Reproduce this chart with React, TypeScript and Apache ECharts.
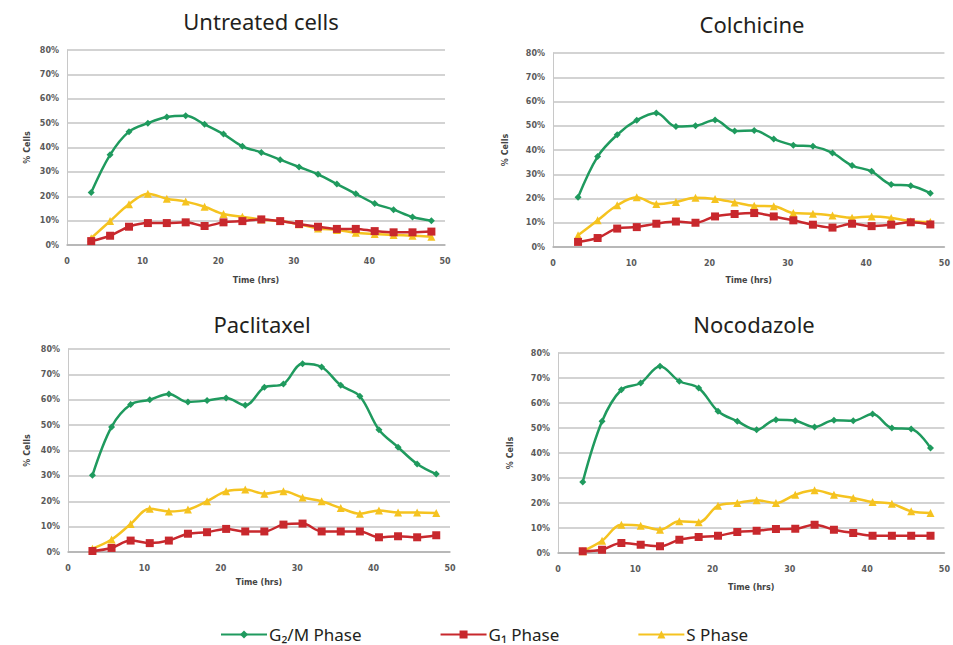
import React, { useEffect, useRef } from "react";
import * as echarts from "echarts";

const times = [3.2, 5.7, 8.2, 10.7, 13.2, 15.7, 18.2, 20.7, 23.2, 25.7, 28.2, 30.7, 33.2, 35.7, 38.2, 40.7, 43.2, 45.7, 48.2];

const panelTitles = ["Untreated cells", "Colchicine", "Paclitaxel", "Nocodazole"];
const seriesNames = ["G₂/M Phase", "G₁ Phase", "S Phase"];
const xTicks = [0, 10, 20, 30, 40, 50];
const yTicks = [0, 10, 20, 30, 40, 50, 60, 70, 80];

// Untreated cells
const untreatedG2M = [21.5, 37, 46.5, 50, 52.5, 53, 49.5, 45.5, 40.5, 38, 35, 32, 29, 25, 21, 17, 14.5, 11.5, 10];
const untreatedG1 = [1.6, 3.8, 7.5, 9, 9, 9.3, 7.8, 9.3, 9.8, 10.5, 9.8, 8.6, 7.5, 6.6, 6.6, 5.7, 5.2, 5.2, 5.5];
const untreatedS = [2.8, 9.8, 16.7, 21, 19, 17.8, 15.7, 12.7, 11.6, 10.5, 9.8, 8.5, 6.8, 6.2, 5, 4.5, 4.1, 3.8, 3.4];

// Colchicine
const colchicineG2M = [20.5, 37.3, 46.3, 52.3, 55.3, 49.7, 50, 52.4, 47.8, 48, 44.5, 42, 41.5, 38.8, 33.6, 31.2, 25.8, 25.3, 22.2];
const colchicineG1 = [2.1, 3.7, 7.6, 8.2, 9.6, 10.5, 10, 12.6, 13.6, 14, 12.6, 11, 9.2, 8, 9.6, 8.6, 9.2, 10.2, 9.3];
const colchicineS = [4.8, 11, 17.2, 20.5, 17.7, 18.6, 20.3, 19.8, 18.4, 17, 16.8, 14, 13.7, 13, 12.1, 12.6, 12, 10.6, 10.3];

// Paclitaxel
const paclitaxelG2M = [30.2, 49.3, 58.1, 60, 62.3, 59.1, 59.7, 60.7, 57.8, 64.9, 66.2, 74.2, 72.9, 65.7, 61.4, 48.2, 41.3, 34.7, 30.7];
const paclitaxelG1 = [0.4, 1.6, 4.5, 3.5, 4.5, 7.2, 7.8, 9.1, 8.1, 8.1, 10.8, 11.2, 8.1, 8.1, 8.1, 5.8, 6.2, 5.8, 6.6];
const paclitaxelS = [1.3, 4.9, 11, 17, 16, 16.7, 20, 23.9, 24.6, 23, 23.9, 21.5, 20, 17.3, 15.1, 16.4, 15.6, 15.6, 15.4];

// Nocodazole
const nocodazoleG2M = [28.4, 52.7, 65.3, 68, 74.7, 68.7, 66, 56.7, 52.7, 49.3, 53.3, 52.9, 50.4, 53.1, 52.9, 55.6, 50, 49.6, 42];
const nocodazoleG1 = [0.7, 1.3, 4, 3.3, 2.7, 5.3, 6.4, 6.9, 8.4, 8.9, 9.6, 9.7, 11.3, 9.3, 8, 6.9, 6.9, 6.9, 6.9];
const nocodazoleS = [0.7, 4.9, 11.3, 10.9, 9.3, 12.7, 12.3, 18.9, 20, 21.1, 20, 23.3, 25.1, 23.3, 22, 20.4, 19.7, 16.7, 16];

const panelData = [
  [untreatedG2M, untreatedG1, untreatedS],
  [colchicineG2M, colchicineG1, colchicineS],
  [paclitaxelG2M, paclitaxelG1, paclitaxelS],
  [nocodazoleG2M, nocodazoleG1, nocodazoleS],
];

const colors = ["#1f9a5e", "#c8282d", "#f5c320"];
const symbols = ["diamond", "rect", "triangle"];
const symbolSizes = [7, 8, 8];

const grids = [
  { left: 67, right: 508, top: 50, bottom: 400 },
  { left: 553, right: 8, top: 53, bottom: 398 },
  { left: 68, right: 503, top: 349, bottom: 93 },
  { left: 558, right: 8, top: 353, bottom: 92 },
];
const titlePos = [
  { x: 261, y: 10 },
  { x: 752, y: 13 },
  { x: 262, y: 313 },
  { x: 754, y: 313 },
];
const xNameGaps = [31, 29, 26, 30];
const yNameGaps = [36, 44, 37, 44];

const tickFont = { fontFamily: "DejaVu Sans", fontSize: 8, fontWeight: "bold" as const, color: "#5a5a5a" };

export default function App() {
  const ref = useRef<HTMLDivElement>(null);
  useEffect(() => {
    if (!ref.current) return;
    const chart = echarts.init(ref.current, null, { renderer: "svg" });
    const series: any[] = [];
    panelData.forEach((panel, p) => {
      panel.forEach((vals, s) => {
        series.push({
          name: seriesNames[s],
          type: "line",
          xAxisIndex: p,
          yAxisIndex: p,
          data: times.map((t, i) => [t, vals[i]]),
          smooth: 0.35,
          symbol: symbols[s],
          symbolSize: symbolSizes[s],
          showSymbol: true,
          lineStyle: { color: colors[s], width: 2.5 },
          itemStyle: { color: colors[s] },
          z: 3 - s,
        });
      });
    });
    chart.setOption({
      animation: false,
      backgroundColor: "#ffffff",
      color: colors,
      grid: grids,
      graphic: panelTitles.map((t, i) => ({
        type: "text",
        x: titlePos[i].x,
        y: titlePos[i].y,
        style: {
          text: t,
          fill: "#231f20",
          font: "22px 'Noto Sans'",
          textAlign: "center",
          textVerticalAlign: "top",
        },
      })),
      xAxis: grids.map((_, i) => ({
        type: "value",
        gridIndex: i,
        min: xTicks[0],
        max: xTicks[xTicks.length - 1],
        interval: 10,
        name: "Time (hrs)",
        nameLocation: "middle",
        nameGap: xNameGaps[i],
        nameTextStyle: { ...tickFont, color: "#444" },
        axisLine: { show: true, lineStyle: { color: "#b0b0b0", width: 1.5 } },
        axisTick: { show: false },
        splitLine: { show: false },
        axisLabel: { ...tickFont, margin: 12 },
      })),
      yAxis: grids.map((_, i) => ({
        type: "value",
        gridIndex: i,
        min: yTicks[0],
        max: yTicks[yTicks.length - 1],
        interval: 10,
        name: "% Cells",
        nameLocation: "middle",
        nameGap: yNameGaps[i],
        nameRotate: 90,
        nameTextStyle: { ...tickFont, color: "#444" },
        axisLine: { show: true, lineStyle: { color: "#c8c8c8", width: 1 } },
        axisTick: { show: false },
        splitLine: { show: true, lineStyle: { color: "#c4c4c4", width: 1.5 } },
        axisLabel: { ...tickFont, margin: 8, formatter: "{value}%" },
      })),
      legend: {
        data: seriesNames,
        left: 220,
        top: 626,
        padding: 0,
        itemWidth: 46,
        itemHeight: 10,
        itemGap: 78,
        textStyle: {
          fontFamily: "Noto Sans",
          fontSize: 17,
          lineHeight: 17,
          color: "#231f20",
          padding: [0, 0, 0, -3],
        },
      },
      series,
    });
    return () => chart.dispose();
  }, []);
  return (
    <div
      ref={ref}
      style={{ position: "fixed", left: 0, top: 0, width: 953, height: 645 }}
    />
  );
}
